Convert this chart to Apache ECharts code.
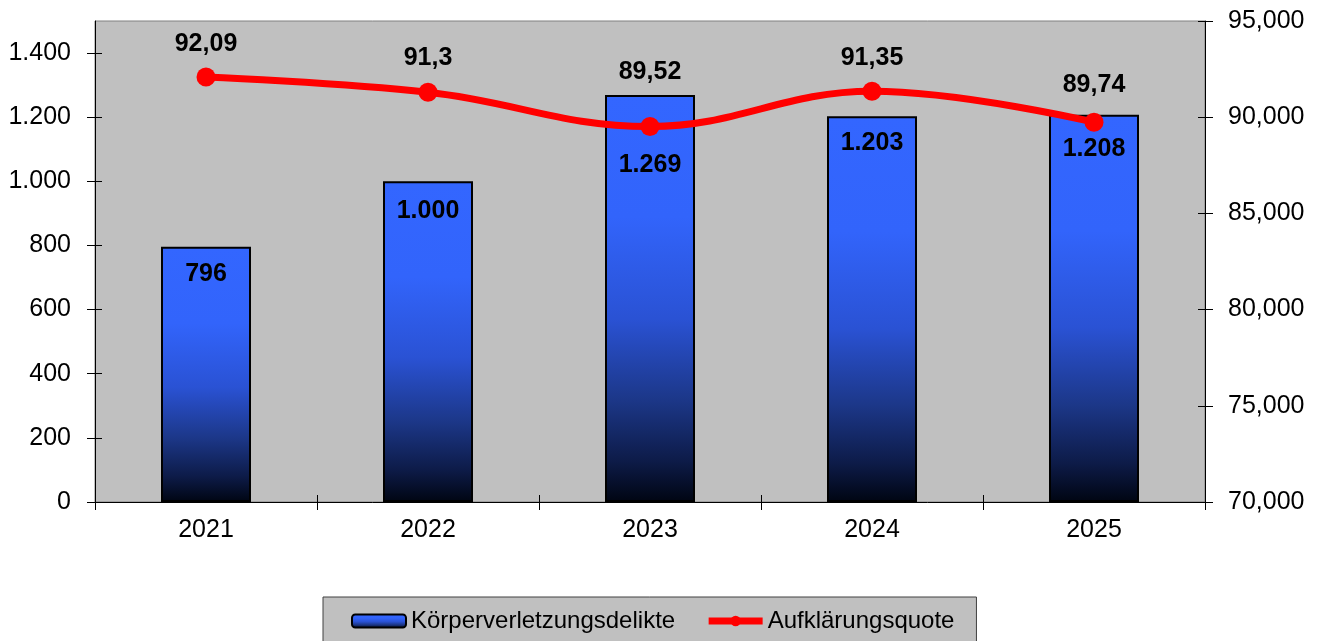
<!DOCTYPE html>
<html>
<head>
<meta charset="utf-8">
<script src="https://cdn.jsdelivr.net/npm/echarts@6/dist/echarts.min.js"></script>
<style>
html,body{margin:0;padding:0;background:#fff;}
#c{width:1322px;height:641px;}
</style>
</head>
<body>
<div id="c"></div>
<script>
const years = ['2021', '2022', '2023', '2024', '2025'];
const delikte = [796, 1000, 1269, 1203, 1208];
const quote = [92.09, 91.3, 89.52, 91.35, 89.74];
const leftTicks = [0, 200, 400, 600, 800, 1000, 1200, 1400];
const rightTicks = [70, 75, 80, 85, 90, 95];
const barName = 'Körperverletzungsdelikte';
const lineName = 'Aufklärungsquote';

const FONT = '"Liberation Sans", Arial, sans-serif';

function deNum(v) {
  const s = String(v);
  return s.replace(/\B(?=(\d{3})+(?!\d))/g, '.');
}
function deDec(v) { return String(v).replace('.', ','); }

const barGradient = {
  type: 'linear', x: 0, y: 0, x2: 0, y2: 1,
  colorStops: [
    {offset: 0, color: '#3366ff'},
    {offset: 0.3, color: '#3264fb'},
    {offset: 0.55, color: '#2a52d4'},
    {offset: 0.75, color: '#1c3788'},
    {offset: 0.9, color: '#0d1b48'},
    {offset: 1, color: '#000512'}
  ]
};

const barLabelDist = [15, 17, 58, 14, 22];
const lineLabelDist = [11, 12, 32, 11, 15];

const chart = echarts.init(document.getElementById('c'));
const axisLabelStyle = {color: '#000', fontFamily: FONT, fontSize: 25};

chart.setOption({
  animation: false,
  textStyle: {fontFamily: FONT},
  grid: {
    left: 95, right: 117, top: 21, bottom: 139,
    show: true, backgroundColor: '#c0c0c0', borderColor: '#808080', borderWidth: 1
  },
  legend: {
    left: 323, top: 597,
    padding: [12, 22, 18, 28],
    backgroundColor: '#c0c0c0', borderColor: '#404040', borderWidth: 1,
    itemWidth: 54, itemHeight: 13, itemGap: 30,
    textStyle: {fontFamily: FONT, fontSize: 24, color: '#000'},
    data: [
      {name: barName},
      {name: lineName, lineStyle: {width: 7, color: '#ff0000'}, itemStyle: {color: '#ff0000'}}
    ]
  },
  xAxis: [{
    type: 'category', data: years, position: 'bottom',
    axisLine: {show: true, lineStyle: {color: '#000', width: 1}},
    axisTick: {show: true, alignWithLabel: false, length: 8, lineStyle: {color: '#000'}},
    axisLabel: Object.assign({margin: 16}, axisLabelStyle),
    splitLine: {show: false}
  }, {
    type: 'category', data: years, position: 'bottom',
    axisLine: {show: false},
    axisTick: {show: true, inside: true, length: 7, lineStyle: {color: '#000'}},
    axisLabel: {show: false}, splitLine: {show: false}
  }],
  yAxis: [{
    type: 'value', min: 0, max: 1500, position: 'left',
    axisLine: {show: true, lineStyle: {color: '#000'}},
    axisTick: {show: true, length: 8, lineStyle: {color: '#000'}, customValues: leftTicks},
    axisLabel: Object.assign({margin: 24, customValues: leftTicks, formatter: v => deNum(v)}, axisLabelStyle),
    splitLine: {show: false}
  }, {
    type: 'value', min: 70, max: 95, interval: 5, position: 'right',
    axisLine: {show: true, lineStyle: {color: '#000'}},
    axisTick: {show: true, length: 8, lineStyle: {color: '#000'}, customValues: rightTicks},
    axisLabel: Object.assign({margin: 23, customValues: rightTicks, formatter: v => v + ',000'}, axisLabelStyle),
    splitLine: {show: false}
  }, {
    type: 'value', min: 0, max: 1500, position: 'left',
    axisLine: {show: false},
    axisTick: {show: true, inside: true, length: 7, lineStyle: {color: '#000'}, customValues: leftTicks},
    axisLabel: {show: false, customValues: leftTicks}, splitLine: {show: false}
  }, {
    type: 'value', min: 70, max: 95, interval: 5, position: 'right',
    axisLine: {show: false},
    axisTick: {show: true, inside: true, length: 7, lineStyle: {color: '#000'}, customValues: rightTicks},
    axisLabel: {show: false, customValues: rightTicks}, splitLine: {show: false}
  }],
  series: [{
    name: barName, type: 'bar', xAxisIndex: 0, yAxisIndex: 0,
    barWidth: 90,
    itemStyle: {color: barGradient, borderColor: '#000', borderWidth: 2},
    label: {
      show: true, position: 'insideTop', color: '#000',
      fontFamily: FONT, fontSize: 25, fontWeight: 'bold',
      formatter: p => deNum(p.value)
    },
    data: delikte.map((v, i) => ({value: v, label: {distance: barLabelDist[i]}})),
    z: 2
  }, {
    name: lineName, type: 'line', xAxisIndex: 0, yAxisIndex: 1,
    smooth: 0.4,
    symbol: 'circle', symbolSize: 19,
    lineStyle: {color: '#ff0000', width: 7},
    itemStyle: {color: '#ff0000'},
    label: {
      show: true, position: 'top', color: '#000',
      fontFamily: FONT, fontSize: 25, fontWeight: 'bold',
      formatter: p => deDec(p.value)
    },
    data: quote.map((v, i) => ({value: v, label: {distance: lineLabelDist[i]}})),
    z: 3
  }]
});
</script>
</body>
</html>
